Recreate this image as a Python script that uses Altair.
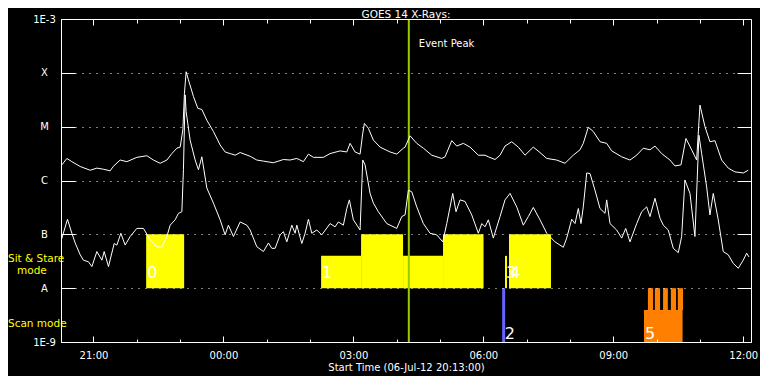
import altair as alt
import pandas as pd

# ---- data (hours relative to 00:00 on 07-Jul-12, log10 flux in W/m^2) ----
long_t = [-3.73, -3.614, -3.499, -3.307, -3.076, -2.922, -2.776, -2.615, -2.546, -2.384,
          -2.229, -1.999, -1.768, -1.616, -1.461, -1.306, -1.191, -1.075, -0.999, -0.937,
          -0.9, -0.861, -0.808, -0.692, -0.591, -0.498, -0.383, -0.231, -0.076, 0.039,
          0.155, 0.27, 0.386, 0.616, 0.771, 0.923, 1.154, 1.385, 1.539, 1.694,
          1.846, 1.962, 2.077, 2.308, 2.462, 2.693, 2.848, 2.924, 3.039, 3.155,
          3.217, 3.254, 3.346, 3.462, 3.616, 3.847, 4.002, 4.154, 4.193, 4.309,
          4.463, 4.616, 4.809, 5.040, 5.117, 5.271, 5.387, 5.539, 5.694, 5.885,
          6.04, 6.116, 6.270, 6.386, 6.501, 6.656, 6.808, 6.963, 7.154, 7.309,
          7.464, 7.694, 7.886, 8.077, 8.232, 8.308, 8.424, 8.539, 8.694, 8.848,
          8.964, 9.195, 9.386, 9.541, 9.693, 9.848, 9.963, 10.118, 10.309, 10.425,
          10.563, 10.678, 10.81, 10.925, 11.002, 11.117, 11.232, 11.348, 11.502, 11.655,
          11.809, 12.001, 12.116]
long_v = [-5.71, -5.59, -5.65, -5.74, -5.81, -5.77, -5.79, -5.82, -5.74, -5.62,
          -5.65, -5.57, -5.54, -5.62, -5.68, -5.62, -5.50, -5.40, -5.38, -5.06,
          -4.38, -3.98, -4.13, -4.44, -4.66, -4.68, -4.88, -5.09, -5.34, -5.47,
          -5.50, -5.53, -5.48, -5.55, -5.62, -5.64, -5.67, -5.61, -5.62, -5.59,
          -5.65, -5.51, -5.57, -5.57, -5.50, -5.45, -5.47, -5.31, -5.47, -5.51,
          -5.12, -4.94, -5.03, -5.25, -5.38, -5.47, -5.51, -5.40, -5.38, -5.17,
          -5.31, -5.40, -5.53, -5.59, -5.56, -5.26, -5.36, -5.31, -5.38, -5.53,
          -5.53, -5.56, -5.61, -5.53, -5.36, -5.28, -5.38, -5.53, -5.38, -5.48,
          -5.59, -5.62, -5.68, -5.53, -5.43, -5.31, -5.01, -5.09, -5.28, -5.31,
          -5.45, -5.56, -5.62, -5.53, -5.40, -5.43, -5.36, -5.50, -5.62, -5.73,
          -5.71, -5.22, -5.43, -5.62, -4.60, -5.00, -5.28, -5.26, -5.62, -5.77,
          -5.84, -5.86, -5.81]

short_t = [-3.74, -3.6, -3.499, -3.423, -3.307, -3.231, -3.116, -3.037, -2.922, -2.806,
           -2.753, -2.654, -2.522, -2.46, -2.368, -2.269, -2.153, -1.999, -1.846, -1.692,
           -1.537, -1.422, -1.306, -1.23, -1.115, -1.039, -0.96, -0.923, -0.884, -0.861,
           -0.769, -0.653, -0.577, -0.498, -0.383, -0.231, -0.076, 0.039, 0.115, 0.231,
           0.386, 0.54, 0.616, 0.771, 0.923, 1.039, 1.117, 1.193, 1.309, 1.385,
           1.463, 1.579, 1.655, 1.694, 1.809, 1.886, 1.962, 2.04, 2.156, 2.271,
           2.462, 2.578, 2.654, 2.769, 2.848, 2.908, 3.0, 3.155, 3.217, 3.27,
           3.386, 3.462, 3.577, 3.771, 4.002, 4.117, 4.193, 4.27, 4.348, 4.463,
           4.616, 4.770, 4.925, 5.063, 5.156, 5.294, 5.370, 5.463, 5.578, 5.733,
           5.885, 5.964, 6.04, 6.116, 6.231, 6.386, 6.501, 6.617, 6.771, 6.924,
           7.039, 7.154, 7.309, 7.464, 7.655, 7.847, 7.925, 8.041, 8.117, 8.193,
           8.255, 8.308, 8.387, 8.463, 8.578, 8.694, 8.809, 8.848, 8.925, 9.079,
           9.195, 9.287, 9.386, 9.541, 9.656, 9.771, 9.848, 9.963, 10.079, 10.155,
           10.27, 10.386, 10.501, 10.579, 10.655, 10.771, 10.886, 10.978, 11.041, 11.156,
           11.232, 11.309, 11.424, 11.539, 11.655, 11.770, 11.886, 12.001, 12.080, 12.133]
short_v = [-7.10, -6.72, -6.98, -7.16, -7.38, -7.48, -7.51, -7.60, -7.32, -7.48,
           -7.32, -7.60, -7.17, -7.20, -6.98, -7.20, -7.04, -6.89, -6.89, -7.10,
           -7.23, -7.24, -7.04, -6.83, -6.73, -6.61, -6.58, -5.80, -4.41, -4.72,
           -5.25, -5.62, -5.80, -5.56, -6.14, -6.42, -6.73, -7.01, -6.83, -7.04,
           -6.77, -6.83, -6.92, -7.23, -7.32, -7.16, -7.26, -7.26, -7.01, -6.95,
           -7.14, -6.83, -6.98, -6.83, -7.17, -6.98, -6.72, -6.98, -6.92, -7.01,
           -6.80, -6.86, -6.77, -6.83, -6.52, -6.36, -6.73, -6.92, -5.62, -5.71,
           -6.24, -6.42, -6.58, -6.80, -6.89, -6.67, -6.64, -6.18, -6.21, -6.49,
           -6.80, -6.98, -7.01, -7.14, -6.80, -6.24, -6.58, -6.36, -6.39, -6.64,
           -6.98, -6.80, -6.86, -6.73, -7.07, -6.67, -6.36, -6.24, -6.49, -6.83,
           -6.67, -6.50, -6.73, -6.98, -7.14, -7.24, -7.07, -6.72, -6.80, -6.52,
           -6.80, -6.49, -5.86, -5.87, -6.18, -6.52, -6.61, -6.36, -6.80, -6.92,
           -7.07, -6.89, -7.14, -6.80, -6.58, -6.49, -6.67, -6.33, -6.70, -6.83,
           -6.92, -7.26, -7.34, -7.04, -5.99, -6.24, -7.04, -5.16, -5.50, -6.12,
           -6.64, -6.24, -6.73, -7.32, -7.38, -7.54, -7.63, -7.48, -7.35, -7.42]

# Sit & Stare observation blocks (between A and B levels)
ss_start = [-1.784, 2.255, 3.178, 4.147, 5.070, 6.501, 6.593]
ss_end = [-0.907, 3.178, 4.147, 5.070, 6.005, 6.547, 7.562]
ss_bottom = [-8.0, -8.0, -8.0, -8.0, -8.0, -8.0, -8.0]
ss_top = [-7.0, -7.40, -7.0, -7.40, -7.0, -7.40, -7.0]

# Scan mode blocks (between 1E-9 and A)
scan_start = [9.709, 9.80, 9.96, 10.15, 10.33, 10.49]
scan_end = [10.60, 9.92, 10.08, 10.26, 10.45, 10.61]
scan_bottom = [-9.0, -8.406, -8.406, -8.406, -8.406, -8.406]
scan_top = [-8.406, -8.0, -8.0, -8.0, -8.0, -8.0]

scan_line_t = [6.47]
scan_line_bottom = [-9.0]
scan_line_top = [-8.0]

event_peak_t = [4.28]

block_names = ["0", "1", "2", "3", "4", "5"]
block_t = [-1.784, 2.255, 6.47, 6.501, 6.593, 9.709]
block_y = [-7.81, -7.81, -8.94, -7.81, -7.81, -8.94]

y_ticks = [-9, -8, -7, -6, -5, -4, -3]
x_major = [-3, 0, 3, 6, 9, 12]
x_minor = list(range(-3, 13))

chart_title = "GOES 14 X-Rays:"

# ---- frames ----
long_df = pd.DataFrame({"t": long_t, "v": long_v})
short_df = pd.DataFrame({"t": short_t, "v": short_v})
ss_df = pd.DataFrame({"t": ss_start, "t2": ss_end, "v": ss_bottom, "v2": ss_top})
scan_df = pd.DataFrame({"t": scan_start, "t2": scan_end, "v": scan_bottom, "v2": scan_top})
line_df = pd.DataFrame({"t": scan_line_t, "v": scan_line_bottom, "v2": scan_line_top})
peak_df = pd.DataFrame({"t": event_peak_t, "label": ["Event Peak"], "v": [-3.52]})
lab_df = pd.DataFrame({"t": block_t, "v": block_y, "label": block_names})
mode_df = pd.DataFrame({"label": ["Sit & Stare", "mode", "Scan mode"],
                        "v": [-7.46, -7.68, -8.67], "px": [-53, -44, -53]})
title_df = pd.DataFrame({"label": [chart_title]})

FONT = "DejaVu Sans"
W, H = 690, 323
xs = alt.Scale(domain=[-3.75, 12.18], nice=False, zero=False)
ys = alt.Scale(domain=[-9, -3], nice=False, zero=False)

ylabel = ("datum.value == -3 ? '1E-3' : datum.value == -4 ? 'X' : datum.value == -5 ? 'M' : "
          "datum.value == -6 ? 'C' : datum.value == -7 ? 'B' : datum.value == -8 ? 'A' : '1E-9'")
xlabel = "format((datum.value + 24) % 24, '02d') + ':00'"

ax_bottom_major = alt.Axis(orient="bottom", values=x_major, labelExpr=xlabel,
                           tickSize={"expr": "-6"}, tickColor="white", domain=True, domainColor="white",
                           labelColor="white", labelFont=FONT, labelFontSize=10, labelPadding=14,
                           labelBaseline="top", labelFlush=False, labelOverlap=False, grid=False,
                           title="Start Time (06-Jul-12 20:13:00)", titleColor="white", titleFont=FONT,
                           titleFontSize=10, titleFontWeight="normal", titlePadding=2, zindex=2)
ax_bottom_minor = alt.Axis(orient="bottom", values=x_minor, labels=False, tickSize={"expr": "-3"},
                           tickColor="white", domain=False, grid=False, title=None, zindex=2)
ax_top_major = alt.Axis(orient="top", values=x_major, labels=False, tickSize={"expr": "-6"},
                        tickColor="white", domain=True, domainColor="white", grid=False, title=None, zindex=2)
ax_top_minor = alt.Axis(orient="top", values=x_minor, labels=False, tickSize={"expr": "-4"},
                        tickColor="white", domain=False, grid=False, title=None, zindex=2)
ax_left = alt.Axis(orient="left", values=y_ticks, labelExpr=ylabel, tickSize={"expr": "-14"},
                   tickColor="white", domain=True, domainColor="white", labelColor="white",
                   labelFont=FONT, labelFontSize=10, labelAlign="center", labelBaseline="middle",
                   labelPadding=31, labelFlush=False, labelOverlap=False,
                   grid=True, gridColor="white", gridDash=[1, 6], gridWidth=1, gridOpacity=1,
                   title=None, zindex=1)
ax_right = alt.Axis(orient="right", values=y_ticks, labels=False, tickSize={"expr": "-14"},
                    tickColor="white", domain=True, domainColor="white", grid=False, title=None, zindex=2)

upper = alt.Chart(long_df).mark_line(color="white", strokeWidth=1).encode(
    x=alt.X("t:Q", scale=xs, axis=ax_bottom_major),
    y=alt.Y("v:Q", scale=ys, axis=ax_left),
)
lower = alt.Chart(short_df).mark_line(color="white", strokeWidth=1).encode(
    x=alt.X("t:Q", scale=xs, axis=ax_bottom_minor),
    y=alt.Y("v:Q", scale=ys, axis=ax_right),
)
ss = alt.Chart(ss_df).mark_rect(color="#ffff00").encode(
    x=alt.X("t:Q", scale=xs, axis=ax_top_major), x2="t2:Q",
    y=alt.Y("v:Q", scale=ys, axis=None), y2="v2:Q",
)
scan = alt.Chart(scan_df).mark_rect(color="#ff8000").encode(
    x=alt.X("t:Q", scale=xs, axis=ax_top_minor), x2="t2:Q",
    y=alt.Y("v:Q", scale=ys, axis=None), y2="v2:Q",
)
scan_line = alt.Chart(line_df).mark_rule(color="#6464ff", strokeWidth=3).encode(
    x=alt.X("t:Q", scale=xs, axis=None),
    y=alt.Y("v:Q", scale=ys, axis=None), y2="v2:Q",
)
peak = alt.Chart(peak_df).mark_rule(color="#99cc00", strokeWidth=2).encode(
    x=alt.X("t:Q", scale=xs, axis=None),
)
peak_text = alt.Chart(peak_df).mark_text(color="white", font=FONT, fontSize=10, align="left",
                                         baseline="alphabetic", dx=10).encode(
    x=alt.X("t:Q", scale=xs, axis=None),
    y=alt.Y("v:Q", scale=ys, axis=None),
    text="label:N",
)
block_text = alt.Chart(lab_df).mark_text(color="white", font=FONT, fontSize=16, align="left",
                                          baseline="alphabetic", dx=1).encode(
    x=alt.X("t:Q", scale=xs, axis=None),
    y=alt.Y("v:Q", scale=ys, axis=None),
    text="label:N",
)
mode_text = alt.Chart(mode_df).mark_text(color="#ffff00", font=FONT, fontSize=10.5, align="left",
                                         baseline="middle").encode(
    x=alt.X("px:Q", scale=None, axis=None),
    y=alt.Y("v:Q", scale=ys, axis=None),
    text="label:N",
)
title_text = alt.Chart(title_df).mark_text(color="white", font=FONT, fontSize=10.5, align="center",
                                           baseline="alphabetic").encode(
    x=alt.value(W / 2),
    y=alt.value(-1),
    text="label:N",
)

chart = alt.layer(
    ss, scan, scan_line, peak, upper, lower, peak_text, block_text, mode_text, title_text
).resolve_axis(x="independent", y="independent").properties(
    width=W, height=H,
    autosize=alt.AutoSizeParams(type="none"),
    padding={"left": 53, "top": 11, "right": 9, "bottom": 34},
).configure(background="black").configure_view(stroke=None)

chart.save("out.html", embed_options={"renderer": "svg", "actions": False})
